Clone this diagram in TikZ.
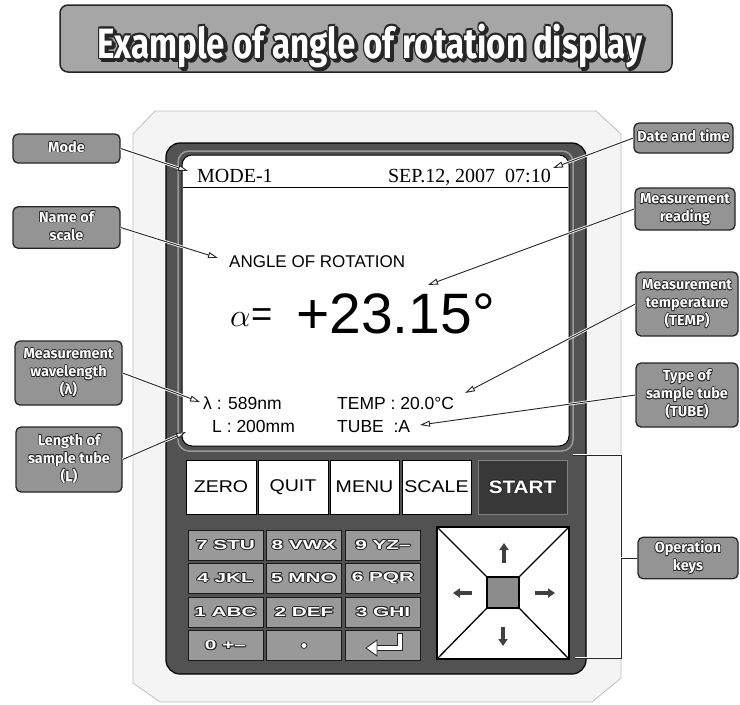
\documentclass[tikz,border=0pt]{standalone}
\usepackage{graphicx}
\usepackage{fontspec}
\setmainfont{Liberation Sans}
\newfontfamily\serf{Liberation Serif}
\newfontfamily\labf{Fira Sans}
\usetikzlibrary{arrows.meta}
\newcommand\oltx[3]{{\setbox0\hbox{#3}%
\rlap{\color{#1}\kern-.7pt\copy0}\rlap{\color{#1}\kern.7pt\copy0}%
\rlap{\color{#1}\raise.7pt\copy0}\rlap{\color{#1}\lower.7pt\copy0}%
\rlap{\color{#1}\kern-.5pt\raise.5pt\copy0}\rlap{\color{#1}\kern.5pt\raise.5pt\copy0}%
\rlap{\color{#1}\kern-.5pt\lower.5pt\copy0}\rlap{\color{#1}\kern.5pt\lower.5pt\copy0}%
{\color{#2}\copy0}}}
\newcommand\olt[1]{\oltx{black!85}{white}{#1}}
\newcommand\labtxt[1]{\olt{\labf\bfseries\fontsize{14.5}{18}\selectfont\begin{tabular}{@{}c@{}}#1\end{tabular}}}
\newcommand\keytxt[1]{\scalebox{1.6}[1]{\olt{\bfseries\fontsize{13}{13}\selectfont #1}}}
\newcommand\titletxt{Example of angle of rotation display}
\begin{document}
\begin{tikzpicture}[x=1pt,y=-1pt,
  lab/.style={draw=black!85, line width=1.3pt, fill=black!42, rounded corners=5pt, inner sep=2pt, align=center},
  conn/.style={draw=black!85, line width=0.9pt, -{Triangle[length=10pt,width=6pt,fill=white]}, preaction={draw=white,line width=2.6pt,arrows=-}},
  brk/.style={draw=black!85, line width=0.9pt, preaction={draw=white,line width=2.6pt}},
  fkey/.style={draw=black, line width=0.8pt, fill=white, minimum height=54pt, inner sep=0pt, font=\fontsize{17}{17}\selectfont},
  nkey/.style={draw=black!90, line width=1pt, fill=black!40, minimum width=75pt, minimum height=30pt, inner sep=0pt},
  padarrow/.style={draw=black!75, line width=3.2pt, -{Triangle[length=7pt,width=9pt]}},
  scr/.style={inner sep=0pt, text=black}
]
\useasboundingbox (0,0) rectangle (740,705);
% title
\draw[black!85, line width=1.5pt, fill=black!35, rounded corners=8pt] (60,5) rectangle (672,72);
\node[anchor=base, inner sep=0pt] (titleshadow) at (372.5,60.5) {\resizebox{545pt}{36pt}{\oltx{black!85}{black!85}{\labf\bfseries\fontsize{18}{18}\selectfont\titletxt}}};
\node[anchor=base, inner sep=0pt] (title) at (370,58) {\resizebox{545pt}{36pt}{\olt{\labf\bfseries\fontsize{18}{18}\selectfont\titletxt}}};
% device body
\draw[gray!50, fill=gray!9, line width=0.8pt] (155,111) -- (596,111) -- (621,134) -- (621,678) -- (592,702) -- (160,702) -- (133,683) -- (133,134) -- cycle;
% bezel
\draw[black, line width=1.2pt, fill=black!68, rounded corners=14pt] (166,143) rectangle (586,674);
\draw[black!40, line width=1.5pt, rounded corners=11pt] (178,151) rectangle (573,451);
\draw[black, line width=1pt, fill=white, rounded corners=10pt] (182,155) rectangle (569,446);
\draw[black, line width=0.8pt] (183,187) -- (568,187);
% screen texts
\node[scr, anchor=base west, font=\serf\fontsize{20}{20}\selectfont] (smode) at (197,182) {MODE-1};
\node[scr, anchor=base east, font=\serf\fontsize{20}{20}\selectfont] (sdate) at (551,182) {SEP.12, 2007\ \ 07:10};
\node[scr, anchor=base west, font=\fontsize{17}{17}\selectfont] (sscale) at (229,267) {ANGLE OF ROTATION};
\node[scr, anchor=base west] (salpha) at (230,326) {\scalebox{1.3}{\fontsize{28}{28}\selectfont$\alpha$\kern0.5pt=}};
\node[scr, anchor=base west, font=\fontsize{57}{57}\selectfont] (sval) at (296,333) {+23.15°};
\node[scr, anchor=base west, font=\fontsize{17.5}{17.5}\selectfont] (swave) at (203,409) {λ : 589nm};
\node[scr, anchor=base west, font=\fontsize{17.5}{17.5}\selectfont] (slen) at (212,432) {L : 200mm};
\node[scr, anchor=base west, font=\fontsize{17.5}{17.5}\selectfont] (stemp) at (337,409) {TEMP : 20.0°C};
\node[scr, anchor=base west, font=\fontsize{17.5}{17.5}\selectfont] (stube) at (337,432) {TUBE\ \ :A};
% function keys
\node[fkey, minimum width=70pt] (kzero) at (221,487) {\scalebox{1.15}[1]{ZERO}};
\node[fkey, minimum width=70pt] (kquit) at (293,487) {\scalebox{1.15}[1]{QUIT}};
\node[fkey, minimum width=69pt] (kmenu) at (364.5,487) {\scalebox{1.15}[1]{MENU}};
\node[fkey, minimum width=69pt] (kscale) at (436.5,487) {\scalebox{1.15}[1]{SCALE}};
\node[draw=black!50, line width=1pt, fill=black!78, minimum width=89pt, minimum height=54pt, inner sep=0pt, font=\bfseries\fontsize{18}{18}\selectfont] (kstart) at (522.5,487) {\scalebox{1.15}[1]{\olt{START}}};
% number keys
\node[nkey] (k7) at (225.5,545) {\keytxt{7 STU}};
\node[nkey] (k8) at (304,545) {\keytxt{8 VWX}};
\node[nkey] (k9) at (383,545) {\keytxt{9 YZ–}};
\node[nkey] (k4) at (225.5,578) {\keytxt{4 JKL}};
\node[nkey] (k5) at (304,578) {\keytxt{5 MNO}};
\node[nkey] (k6) at (383,578) {\keytxt{6 PQR}};
\node[nkey] (k1) at (225.5,612) {\keytxt{1 ABC}};
\node[nkey] (k2) at (304,612) {\keytxt{2 DEF}};
\node[nkey] (k3) at (383,612) {\keytxt{3 GHI}};
\node[nkey] (k0) at (225.5,645.5) {\keytxt{0 +–}};
\node[nkey] (kdot) at (304,645.5) {};
\node[nkey] (kent) at (383,645.5) {};
\fill[white, draw=black!85, line width=0.8pt] (kdot.center) circle (3pt);
\draw[black!85, line width=5.4pt] (400,633) -- (400,648) -- (374,648);
\draw[white, line width=3.4pt] (400,634) -- (400,648) -- (373,648);
\draw[black!85, line width=0.8pt, fill=white] (377,640) -- (366,648) -- (377,656) -- cycle;
% arrow pad
\node[draw=black, line width=1.5pt, fill=white, minimum width=132pt, minimum height=132pt, inner sep=0pt] (pad) at (503,593) {};
\node[draw=black, line width=1.2pt, fill=black!45, minimum width=32pt, minimum height=31pt, inner sep=0pt] (padc) at (503,592.5) {};
\foreach \a in {north west, north east, south west, south east} \draw[line width=1.3pt] (pad.\a) -- (padc.\a);
\draw[padarrow] (504,563) -- (504,543);
\draw[padarrow] (503,627) -- (503,646);
\draw[padarrow] (472,593) -- (453,593);
\draw[padarrow] (535,593) -- (555,593);
% labels
\node[lab, minimum width=107pt, minimum height=29pt] (mode) at (66.5,148.5) {\labtxt{Mode}};
\node[lab, minimum width=107pt, minimum height=41pt] (scale) at (66.5,227.5) {\labtxt{Name of\\scale}};
\node[lab, minimum width=107pt, minimum height=64pt] (wave) at (68.5,373) {\labtxt{Measurement\\wavelength\\(λ)}};
\node[lab, minimum width=106pt, minimum height=65pt] (len) at (69,459.5) {\labtxt{Length of\\sample tube\\(L)}};
\node[lab, minimum width=99pt, minimum height=30pt] (date) at (683.5,138) {\labtxt{Date and time}};
\node[lab, minimum width=100pt, minimum height=42pt] (read) at (685,209) {\labtxt{Measurement\\reading}};
\node[lab, minimum width=102pt, minimum height=64pt] (temp) at (687,304) {\labtxt{Measurement\\temperature\\(TEMP)}};
\node[lab, minimum width=102pt, minimum height=64pt] (tube) at (687,395) {\labtxt{Type of\\sample tube\\(TUBE)}};
\node[lab, minimum width=100pt, minimum height=40pt] (ops) at (688,558) {\labtxt{Operation\\keys}};
% targets
\coordinate (tMode) at (188,171);
\coordinate (tScale) at (218,258);
\coordinate (tWave) at (200,402);
\coordinate (tLen) at (186,432);
\coordinate (tDate) at (553,168);
\coordinate (tRead) at (428,285);
\coordinate (tTemp) at (465,393);
\coordinate (tTube) at (420,425);
% connectors
\draw[conn] (mode.east) -- (tMode);
\draw[conn] (scale.east) -- (tScale);
\draw[conn] (wave.east) -- (tWave);
\draw[conn] (len.east) -- (tLen);
\draw[conn] (date.west) -- (tDate);
\draw[conn] (read.west) -- (tRead);
\draw[conn] (temp.west) -- (tTemp);
\draw[conn] (tube.west) -- (tTube);
% bracket for operation keys
\coordinate (b1) at (573,455);
\coordinate (b2) at (621,455);
\coordinate (b3) at (621,658);
\coordinate (b4) at (575,658);
\coordinate (b5) at (621,558);
\draw[brk] (b1) -- (b2) -- (b3) -- (b4);
\draw[brk] (b5) -- (ops.west);
\end{tikzpicture}
\end{document}
